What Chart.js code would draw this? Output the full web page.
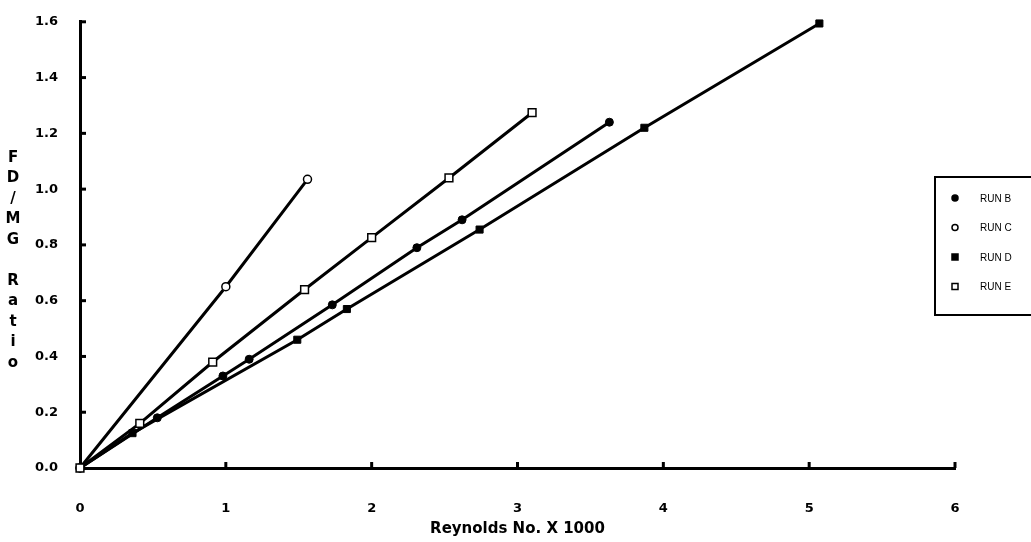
<!DOCTYPE html>
<html>
<head>
<meta charset="utf-8">
<script src="https://cdn.jsdelivr.net/npm/chart.js@4"></script>
<style>
  html, body { margin: 0; padding: 0; background: #fff; }
  #wrap { width: 1031px; height: 542px; position: relative; }
</style>
</head>
<body>
<div id="wrap"><canvas id="fd-chart"></canvas></div>
<script>
// values (x = Reynolds No. / 1000, y = FD/MG ratio)
const runB_x = [0, 0.53, 0.98, 1.16, 1.73, 2.31, 2.62, 3.63];
const runB_y = [0, 0.18, 0.33, 0.39, 0.585, 0.79, 0.89, 1.24];

const runC_x = [0, 1.0, 1.56];
const runC_y = [0, 0.65, 1.035];

const runD_x = [0, 0.36, 1.49, 1.83, 2.74, 3.87, 5.07];
const runD_y = [0, 0.125, 0.46, 0.57, 0.855, 1.22, 1.594];

const runE_x = [0, 0.41, 0.91, 1.54, 2.0, 2.53, 3.1];
const runE_y = [0, 0.16, 0.38, 0.64, 0.826, 1.04, 1.274];

const xTicks = [0, 1, 2, 3, 4, 5, 6];
const yTicks = [0, 0.2, 0.4, 0.6, 0.8, 1.0, 1.2, 1.4, 1.6];
const yTitle = ["F", "D", "/", "M", "G", "", "R", "a", "t", "i", "o"];
const xTitle = "Reynolds No. X 1000";

function pts(xs, ys) {
  return xs.map((x, i) => ({ x: x, y: ys[i] }));
}

const FONT = "'DejaVu Sans', Arial, sans-serif";

const datasets = [
  { label: "RUN B", data: pts(runB_x, runB_y), pointStyle: "circle", pointRadius: 4,
    backgroundColor: "#000", borderColor: "#000", pointBorderWidth: 1 },
  { label: "RUN C", data: pts(runC_x, runC_y), pointStyle: "circle", pointRadius: 4,
    backgroundColor: "#fff", borderColor: "#000", pointBorderWidth: 1.5 },
  { label: "RUN D", data: pts(runD_x, runD_y), pointStyle: "rect", pointRadius: 5,
    backgroundColor: "#000", borderColor: "#000", pointBorderWidth: 1 },
  { label: "RUN E", data: pts(runE_x, runE_y), pointStyle: "rect", pointRadius: 5.5,
    backgroundColor: "#fff", borderColor: "#000", pointBorderWidth: 1.5 },
];
datasets.forEach(d => {
  d.borderWidth = 3;
  d.tension = 0;
  d.fill = false;
  d.clip = false;
  d.pointBackgroundColor = d.backgroundColor;
  d.pointBorderColor = "#000";
});

// inward tick marks, stacked y title and the boxed legend
const decorations = {
  id: "decorations",
  afterDraw(chart) {
    const ctx = chart.ctx;
    const xs = chart.scales.x, ys = chart.scales.y;
    ctx.save();
    ctx.strokeStyle = "#000";
    ctx.lineWidth = 3;
    xTicks.forEach(v => {
      const px = xs.getPixelForValue(v);
      if (v === 0) return;
      ctx.beginPath();
      ctx.moveTo(px, ys.bottom);
      ctx.lineTo(px, ys.bottom - 6);
      ctx.stroke();
    });
    yTicks.forEach(v => {
      const py = ys.getPixelForValue(v);
      if (v === 0) return;
      ctx.beginPath();
      ctx.moveTo(xs.left, py);
      ctx.lineTo(xs.left + 6, py);
      ctx.stroke();
    });

    // y axis title, one letter per line
    ctx.fillStyle = "#000";
    ctx.font = "bold 15px " + FONT;
    ctx.textAlign = "center";
    ctx.textBaseline = "middle";
    yTitle.forEach((ch, i) => {
      ctx.fillText(ch, 13, 158 + i * 20.5);
    });

    // legend
    ctx.lineWidth = 2;
    ctx.strokeRect(935, 177, 110, 138);
    ctx.font = "10px 'Liberation Sans Narrow', 'Liberation Sans', sans-serif";
    ctx.textAlign = "left";
    datasets.forEach((d, i) => {
      const cy = 198 + i * 29.5;
      const cx = 955;
      ctx.fillStyle = d.backgroundColor;
      ctx.strokeStyle = "#000";
      ctx.lineWidth = 1.5;
      if (d.pointStyle === "circle") {
        ctx.beginPath();
        ctx.arc(cx, cy, 3, 0, Math.PI * 2);
        ctx.fill();
        ctx.stroke();
      } else {
        ctx.fillRect(cx - 3, cy - 3, 6, 6);
        ctx.strokeRect(cx - 3, cy - 3, 6, 6);
      }
      ctx.fillStyle = "#000";
      ctx.fillText(d.label, 980, cy + 1);
    });
    ctx.restore();
  },
};

const ctx = document.getElementById("fd-chart");

// first dataset is drawn on top, so RUN E (open square at the origin) goes first
new Chart(ctx, {
  type: "line",
  data: { datasets: [datasets[3], datasets[1], datasets[0], datasets[2]] },
  options: {
    responsive: true,
    maintainAspectRatio: false,
    animation: false,
    layout: { padding: { left: 0, right: 76, top: 18, bottom: 0 } },
    plugins: {
      legend: { display: false },
      tooltip: { enabled: false },
    },
    scales: {
      x: {
        type: "linear",
        min: 0,
        max: 6,
        afterBuildTicks: (s) => { s.ticks = xTicks.map(v => ({ value: v })); },
        afterFit: (s) => { s.height = 74; },
        grid: { display: false },
        border: { color: "#000", width: 3 },
        ticks: {
          color: "#000",
          padding: 25,
          font: { size: 13, weight: "bold", family: FONT },
          callback: (v) => String(v),
        },
        title: {
          display: true,
          text: xTitle,
          color: "#000",
          padding: { top: 0, bottom: 4 },
          font: { size: 15, weight: "bold", family: FONT },
        },
      },
      y: {
        type: "linear",
        min: 0,
        max: 1.6,
        afterBuildTicks: (s) => { s.ticks = yTicks.map(v => ({ value: v })); },
        afterFit: (s) => { s.width = 80; },
        grid: { display: false },
        border: { color: "#000", width: 3 },
        ticks: {
          color: "#000",
          padding: 14,
          font: { size: 13, weight: "bold", family: FONT },
          callback: (v) => Number(v).toFixed(1),
        },
      },
    },
  },
  plugins: [decorations],
});
</script>
</body>
</html>
